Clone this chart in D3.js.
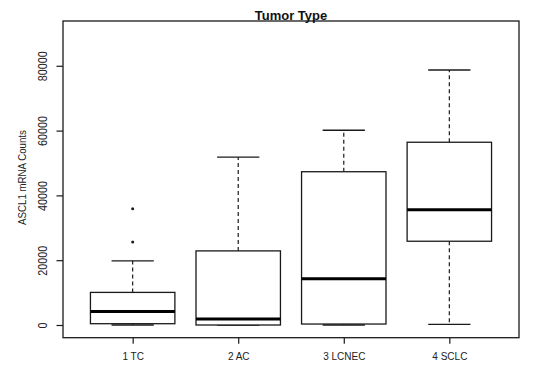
<!DOCTYPE html>
<html lang="en">
<head>
    <meta charset="UTF-8">
    <title>Tumor Type</title>
    <script src="https://d3js.org/d3.v7.min.js"></script>
    <style>
        body {margin: 0; background: white;}
        svg {display: block; font-family: "Liberation Sans", Arial, sans-serif;}
    </style>
</head>
<body>
<script>
    const width = 550;
    const height = 366;

    // box statistics
    const categories = ["1 TC", "2 AC", "3 LCNEC", "4 SCLC"];
    const lowerWhisker = [0, 0, 0, 200];
    const q1 = [400, 0, 300, 25850];
    const medians = [4200, 1850, 14250, 35600];
    const q3 = [10060, 22870, 47300, 56400];
    const upperWhisker = [19800, 51800, 60100, 78700];
    const outliers = [[25640, 35900], [], [], []];
    const yTicks = [0, 20000, 40000, 60000, 80000];

    const margin = {top: 21, right: 31, bottom: 28.3, left: 63};
    const ink = "#1a1a1a";

    const svg = d3.select("body").append("svg")
            .attr("width", width).attr("height", height);

    // R style: x from 0.5 - 4% ... 4.5 + 4%
    const x = d3.scaleLinear()
            .domain([0.34, categories.length + 0.66])
            .range([margin.left, width - margin.right]);

    const y = d3.scaleLinear()
            .domain([-3920, 93820])
            .range([height - margin.bottom, margin.top]);

    const boxW = (x(2) - x(1)) * 0.8;
    const stapleW = boxW / 2;

    const boxes = categories.map((c, i) => ({
        name: c, pos: i + 1,
        lo: lowerWhisker[i], q1: q1[i], med: medians[i], q3: q3[i], hi: upperWhisker[i],
        out: outliers[i]
    }));

    // y axis
    const yAxis = svg.append("g")
            .attr("transform", `translate(${margin.left},0)`)
            .call(d3.axisLeft(y).tickValues(yTicks).tickFormat(d3.format("d")).tickSize(6.5).tickPadding(0));
    yAxis.select(".domain").remove();
    yAxis.selectAll(".tick line").attr("stroke", ink).attr("stroke-width", 1.2);
    yAxis.selectAll(".tick text")
            .attr("x", null).attr("dy", null)
            .attr("transform", "translate(-16,0) rotate(-90) scale(1,1.12)")
            .attr("text-anchor", "middle")
            .style("font-size", "10.8px")
            .style("font-family", "'Liberation Sans', Arial, sans-serif")
            .attr("fill", "#222");

    // x axis
    const xAxis = svg.append("g")
            .attr("transform", `translate(0,${height - margin.bottom})`)
            .call(d3.axisBottom(x).tickValues(boxes.map(d => d.pos))
                    .tickFormat(d => categories[d - 1]).tickSize(6).tickPadding(0));
    xAxis.select(".domain").remove();
    xAxis.selectAll(".tick line").attr("stroke", ink).attr("stroke-width", 1.2);
    xAxis.selectAll(".tick text")
            .attr("y", 22).attr("dy", null)
            .style("font-size", "10px")
            .style("font-family", "'Liberation Sans', Arial, sans-serif")
            .attr("fill", "#222");

    const g = svg.selectAll("g.box")
            .data(boxes)
            .enter()
            .append("g")
            .attr("class", "box");

    // whiskers (dashed)
    g.append("line")
            .attr("x1", d => x(d.pos)).attr("x2", d => x(d.pos))
            .attr("y1", d => y(d.q3)).attr("y2", d => y(d.hi))
            .attr("stroke", ink).attr("stroke-width", 1.2)
            .attr("stroke-dasharray", "4,3");
    g.append("line")
            .attr("x1", d => x(d.pos)).attr("x2", d => x(d.pos))
            .attr("y1", d => y(d.q1)).attr("y2", d => y(d.lo))
            .attr("stroke", ink).attr("stroke-width", 1.2)
            .attr("stroke-dasharray", "4,3");

    // staples
    g.selectAll("line.staple")
            .data(d => [d.lo, d.hi].map(v => ({pos: d.pos, v: v})))
            .enter()
            .append("line")
            .attr("class", "staple")
            .attr("x1", d => x(d.pos) - stapleW / 2).attr("x2", d => x(d.pos) + stapleW / 2)
            .attr("y1", d => y(d.v)).attr("y2", d => y(d.v))
            .attr("stroke", ink).attr("stroke-width", 1.3);

    // box
    g.append("rect")
            .attr("x", d => x(d.pos) - boxW / 2)
            .attr("width", boxW)
            .attr("y", d => y(d.q3))
            .attr("height", d => y(d.q1) - y(d.q3))
            .attr("fill", "white")
            .attr("stroke", ink).attr("stroke-width", 1.3);

    // median
    g.append("line")
            .attr("x1", d => x(d.pos) - boxW / 2).attr("x2", d => x(d.pos) + boxW / 2)
            .attr("y1", d => y(d.med)).attr("y2", d => y(d.med))
            .attr("stroke", "black").attr("stroke-width", 3);

    // outliers
    g.selectAll("circle")
            .data(d => d.out.map(v => ({pos: d.pos, v: v})))
            .enter()
            .append("circle")
            .attr("cx", d => x(d.pos)).attr("cy", d => y(d.v))
            .attr("r", 1.5)
            .attr("fill", ink);

    // frame
    svg.append("rect")
            .attr("x", margin.left).attr("y", margin.top)
            .attr("width", width - margin.left - margin.right)
            .attr("height", height - margin.top - margin.bottom)
            .attr("fill", "none")
            .attr("stroke", ink).attr("stroke-width", 1.3);

    // title
    svg.append("text")
            .attr("x", (margin.left + width - margin.right) / 2)
            .attr("y", 20)
            .attr("text-anchor", "middle")
            .style("font-size", "13px")
            .style("font-weight", "bold")
            .attr("fill", "#111")
            .text("Tumor Type");

    // y label
    svg.append("text")
            .attr("transform", "translate(26,177.5) rotate(-90) scale(1,1.2)")
            .attr("text-anchor", "middle")
            .style("font-size", "9.7px")
            .attr("fill", "#222")
            .text("ASCL1 mRNA Counts");
</script>
</body>
</html>
